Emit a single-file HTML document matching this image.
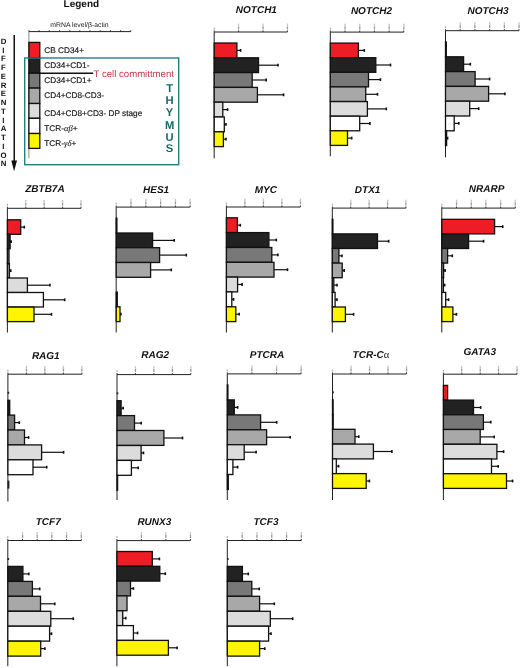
<!DOCTYPE html>
<html><head><meta charset="utf-8"><style>
html,body{margin:0;padding:0;background:#fff;}
body{width:520px;height:668px;overflow:hidden;}
svg{display:block;will-change:transform;filter:blur(0.3px);}
text{font-family:"Liberation Sans", sans-serif;text-rendering:geometricPrecision;}
.tt{font-size:10px;font-weight:bold;font-style:italic;fill:#111;}
.al{font-family:"Liberation Serif",serif;font-weight:normal;font-style:normal;font-size:10.5px;}
.lg{font-size:10px;font-weight:bold;fill:#111;}
.ml{font-size:6.85px;fill:#222;}
.gk{font-family:"Liberation Serif",serif;font-style:italic;font-size:8.6px;stroke-width:0.1;}
.lt{font-size:8.25px;fill:#1a1a1a;stroke:#1a1a1a;stroke-width:0.18;}
.rc{font-size:9.6px;fill:#c43a48;}
.th{font-size:11.2px;font-weight:bold;fill:#186868;text-anchor:middle;}
.df{font-size:7.8px;font-weight:bold;fill:#111;text-anchor:middle;}
.ax{stroke:#222;stroke-width:1;}
.lax{stroke:#888;stroke-width:1;}
.tk{stroke:#222;stroke-width:0.9;}
.tl{fill:#aaa;}
.bar{stroke:#111;stroke-width:1.3;}
.eb{stroke:#111;stroke-width:1.2;}
.ec{stroke:#111;stroke-width:1.6;}
.tc{stroke:#111;stroke-width:1.4;}
.fr{fill:none;stroke:#237f80;stroke-width:1.4;}
.ar{stroke:#111;stroke-width:1.5;}
</style></head><body>
<svg width="520" height="668" viewBox="0 0 520 668">
<text x="63.6" y="7.0" class="lg">Legend</text>
<text x="50.3" y="27.3" class="ml">mRNA level/β-actin</text>
<line x1="28.9" y1="31.6" x2="130.8" y2="31.6" class="ax"/>
<line x1="28.9" y1="30.2" x2="28.9" y2="31.6" class="tk"/>
<line x1="39.1" y1="30.2" x2="39.1" y2="31.6" class="tk"/>
<line x1="49.3" y1="30.2" x2="49.3" y2="31.6" class="tk"/>
<line x1="59.5" y1="30.2" x2="59.5" y2="31.6" class="tk"/>
<line x1="69.7" y1="30.2" x2="69.7" y2="31.6" class="tk"/>
<line x1="79.8" y1="30.2" x2="79.8" y2="31.6" class="tk"/>
<line x1="90.0" y1="30.2" x2="90.0" y2="31.6" class="tk"/>
<line x1="100.2" y1="30.2" x2="100.2" y2="31.6" class="tk"/>
<line x1="110.4" y1="30.2" x2="110.4" y2="31.6" class="tk"/>
<line x1="120.6" y1="30.2" x2="120.6" y2="31.6" class="tk"/>
<line x1="130.8" y1="30.2" x2="130.8" y2="31.6" class="tk"/>
<line x1="28.9" y1="31.6" x2="28.9" y2="158.3" class="lax"/>
<rect x="28.9" y="42.4" width="10.9" height="15.4" fill="#ee1c24" class="bar"/>
<rect x="28.9" y="57.8" width="10.9" height="15.4" fill="#222222" class="bar"/>
<rect x="28.9" y="73.2" width="10.9" height="14.9" fill="#787878" class="bar"/>
<rect x="28.9" y="88.1" width="10.9" height="15.4" fill="#a8a8a8" class="bar"/>
<rect x="28.9" y="103.5" width="10.9" height="14.8" fill="#dcdcdc" class="bar"/>
<rect x="28.9" y="118.3" width="10.9" height="15.2" fill="#ffffff" class="bar"/>
<rect x="28.9" y="133.5" width="10.9" height="14.9" fill="#fff500" class="bar"/>
<text x="44.3" y="53.0" class="lt">CB CD34+</text>
<text x="44.3" y="67.5" class="lt">CD34+CD1-</text>
<text x="44.3" y="82.8" class="lt">CD34+CD1+</text>
<text x="44.3" y="97.9" class="lt">CD4+CD8-CD3-</text>
<text x="44.3" y="115.8" class="lt">CD4+CD8+CD3- DP stage</text>
<text x="44.3" y="131.1" class="lt">TCR-<tspan class="gk">αβ</tspan>+</text>
<text x="44.3" y="145.6" class="lt">TCR-<tspan class="gk">γδ</tspan>+</text>
<line x1="39.8" y1="73.2" x2="93.2" y2="73.2" class="tc"/>
<text x="93.6" y="76.6" class="rc">T cell committment</text>
<rect x="24.7" y="58.0" width="154.0" height="106.7" class="fr"/>
<text x="169.6" y="91.7" class="th">T</text>
<text x="169.6" y="104.0" class="th">H</text>
<text x="169.6" y="116.2" class="th">Y</text>
<text x="169.6" y="128.6" class="th">M</text>
<text x="169.6" y="140.7" class="th">U</text>
<text x="169.6" y="152.3" class="th">S</text>
<text x="3.45" y="43.80" class="df">D</text>
<text x="3.45" y="52.56" class="df">I</text>
<text x="3.45" y="61.32" class="df">F</text>
<text x="3.45" y="70.08" class="df">F</text>
<text x="3.45" y="78.84" class="df">E</text>
<text x="3.45" y="87.60" class="df">R</text>
<text x="3.45" y="96.36" class="df">E</text>
<text x="3.45" y="105.12" class="df">N</text>
<text x="3.45" y="113.88" class="df">T</text>
<text x="3.45" y="122.64" class="df">I</text>
<text x="3.45" y="131.40" class="df">A</text>
<text x="3.45" y="140.16" class="df">T</text>
<text x="3.45" y="148.92" class="df">I</text>
<text x="3.45" y="157.68" class="df">O</text>
<text x="3.45" y="166.44" class="df">N</text>
<line x1="14.25" y1="35.0" x2="14.25" y2="162" class="ar"/>
<path d="M11.3,160.4 L17.0,160.4 L14.1,171.2 Z" fill="#111"/>
<text x="235.8" y="13.3" class="tt">NOTCH1</text>
<line x1="214.2" y1="32.0" x2="287.4" y2="32.0" class="ax"/>
<line x1="214.2" y1="30.4" x2="214.2" y2="32.0" class="tk"/>
<rect x="213.6" y="27.6" width="1.2" height="1.8" fill="#aaa"/>
<line x1="238.6" y1="30.4" x2="238.6" y2="32.0" class="tk"/>
<rect x="237.9" y="23.6" width="1.3" height="2.6" fill="#c4c4c4"/>
<rect x="237.9" y="26.4" width="1.3" height="3.0" fill="#999"/>
<line x1="263.0" y1="30.4" x2="263.0" y2="32.0" class="tk"/>
<rect x="262.4" y="23.6" width="1.3" height="2.6" fill="#c4c4c4"/>
<rect x="262.4" y="26.4" width="1.3" height="3.0" fill="#999"/>
<line x1="287.4" y1="30.4" x2="287.4" y2="32.0" class="tk"/>
<rect x="286.8" y="23.6" width="1.3" height="2.6" fill="#c4c4c4"/>
<rect x="286.8" y="26.4" width="1.3" height="3.0" fill="#999"/>
<line x1="214.2" y1="32.0" x2="214.2" y2="158.4" class="ax"/>
<rect x="214.2" y="43.0" width="22.7" height="14.8" fill="#ee1c24" class="bar"/>
<line x1="236.9" y1="50.4" x2="240.6" y2="50.4" class="eb"/>
<line x1="240.6" y1="49.0" x2="240.6" y2="51.8" class="ec"/>
<rect x="214.2" y="57.8" width="44.3" height="14.8" fill="#222222" class="bar"/>
<line x1="258.5" y1="65.2" x2="278.0" y2="65.2" class="eb"/>
<line x1="278.0" y1="63.8" x2="278.0" y2="66.6" class="ec"/>
<rect x="214.2" y="72.6" width="38.0" height="14.8" fill="#787878" class="bar"/>
<line x1="252.2" y1="80.0" x2="266.2" y2="80.0" class="eb"/>
<line x1="266.2" y1="78.6" x2="266.2" y2="81.4" class="ec"/>
<rect x="214.2" y="87.4" width="43.2" height="14.8" fill="#a8a8a8" class="bar"/>
<line x1="257.4" y1="94.8" x2="283.6" y2="94.8" class="eb"/>
<line x1="283.6" y1="93.4" x2="283.6" y2="96.2" class="ec"/>
<rect x="214.2" y="102.2" width="8.6" height="14.8" fill="#dcdcdc" class="bar"/>
<line x1="222.8" y1="109.6" x2="227.6" y2="109.6" class="eb"/>
<line x1="227.6" y1="108.2" x2="227.6" y2="111.0" class="ec"/>
<rect x="214.2" y="117.0" width="10.1" height="14.8" fill="#ffffff" class="bar"/>
<line x1="224.3" y1="124.4" x2="226.0" y2="124.4" class="eb"/>
<line x1="226.0" y1="123.0" x2="226.0" y2="125.8" class="ec"/>
<rect x="214.2" y="131.8" width="9.2" height="14.8" fill="#fff500" class="bar"/>
<line x1="223.4" y1="139.2" x2="226.0" y2="139.2" class="eb"/>
<line x1="226.0" y1="137.8" x2="226.0" y2="140.6" class="ec"/>
<text x="350.9" y="13.7" class="tt">NOTCH2</text>
<line x1="330.3" y1="32.1" x2="403.8" y2="32.1" class="ax"/>
<line x1="330.3" y1="30.5" x2="330.3" y2="32.1" class="tk"/>
<rect x="329.7" y="27.7" width="1.2" height="1.8" fill="#aaa"/>
<line x1="345.0" y1="30.5" x2="345.0" y2="32.1" class="tk"/>
<rect x="344.4" y="23.7" width="1.3" height="2.6" fill="#c4c4c4"/>
<rect x="344.4" y="26.5" width="1.3" height="3.0" fill="#999"/>
<line x1="359.7" y1="30.5" x2="359.7" y2="32.1" class="tk"/>
<rect x="359.1" y="23.7" width="1.3" height="2.6" fill="#c4c4c4"/>
<rect x="359.1" y="26.5" width="1.3" height="3.0" fill="#999"/>
<line x1="374.4" y1="30.5" x2="374.4" y2="32.1" class="tk"/>
<rect x="373.8" y="23.7" width="1.3" height="2.6" fill="#c4c4c4"/>
<rect x="373.8" y="26.5" width="1.3" height="3.0" fill="#999"/>
<line x1="389.1" y1="30.5" x2="389.1" y2="32.1" class="tk"/>
<rect x="388.5" y="23.7" width="1.3" height="2.6" fill="#c4c4c4"/>
<rect x="388.5" y="26.5" width="1.3" height="3.0" fill="#999"/>
<line x1="403.8" y1="30.5" x2="403.8" y2="32.1" class="tk"/>
<rect x="403.2" y="23.7" width="1.3" height="2.6" fill="#c4c4c4"/>
<rect x="403.2" y="26.5" width="1.3" height="3.0" fill="#999"/>
<line x1="330.3" y1="32.1" x2="330.3" y2="156.3" class="ax"/>
<rect x="330.3" y="43.1" width="28.1" height="14.6" fill="#ee1c24" class="bar"/>
<line x1="358.4" y1="50.4" x2="364.3" y2="50.4" class="eb"/>
<line x1="364.3" y1="49.0" x2="364.3" y2="51.8" class="ec"/>
<rect x="330.3" y="57.7" width="45.5" height="14.6" fill="#222222" class="bar"/>
<line x1="375.8" y1="65.0" x2="390.5" y2="65.0" class="eb"/>
<line x1="390.5" y1="63.6" x2="390.5" y2="66.4" class="ec"/>
<rect x="330.3" y="72.3" width="38.2" height="14.6" fill="#787878" class="bar"/>
<line x1="368.5" y1="79.6" x2="380.4" y2="79.6" class="eb"/>
<line x1="380.4" y1="78.2" x2="380.4" y2="81.0" class="ec"/>
<rect x="330.3" y="86.9" width="35.4" height="14.6" fill="#a8a8a8" class="bar"/>
<line x1="365.7" y1="94.3" x2="377.5" y2="94.3" class="eb"/>
<line x1="377.5" y1="92.9" x2="377.5" y2="95.7" class="ec"/>
<rect x="330.3" y="101.6" width="37.1" height="14.6" fill="#dcdcdc" class="bar"/>
<line x1="367.4" y1="108.9" x2="386.3" y2="108.9" class="eb"/>
<line x1="386.3" y1="107.5" x2="386.3" y2="110.3" class="ec"/>
<rect x="330.3" y="116.2" width="29.4" height="14.6" fill="#ffffff" class="bar"/>
<line x1="359.7" y1="123.5" x2="369.9" y2="123.5" class="eb"/>
<line x1="369.9" y1="122.1" x2="369.9" y2="124.9" class="ec"/>
<rect x="330.3" y="130.8" width="17.2" height="14.6" fill="#fff500" class="bar"/>
<line x1="347.5" y1="138.1" x2="351.7" y2="138.1" class="eb"/>
<line x1="351.7" y1="136.7" x2="351.7" y2="139.5" class="ec"/>
<text x="467.5" y="13.7" class="tt">NOTCH3</text>
<line x1="445.5" y1="30.7" x2="519.0" y2="30.7" class="ax"/>
<line x1="445.5" y1="29.1" x2="445.5" y2="30.7" class="tk"/>
<rect x="444.9" y="26.3" width="1.2" height="1.8" fill="#aaa"/>
<line x1="460.2" y1="29.1" x2="460.2" y2="30.7" class="tk"/>
<rect x="459.6" y="22.3" width="1.3" height="2.6" fill="#c4c4c4"/>
<rect x="459.6" y="25.1" width="1.3" height="3.0" fill="#999"/>
<line x1="474.9" y1="29.1" x2="474.9" y2="30.7" class="tk"/>
<rect x="474.2" y="22.3" width="1.3" height="2.6" fill="#c4c4c4"/>
<rect x="474.2" y="25.1" width="1.3" height="3.0" fill="#999"/>
<line x1="489.6" y1="29.1" x2="489.6" y2="30.7" class="tk"/>
<rect x="489.0" y="22.3" width="1.3" height="2.6" fill="#c4c4c4"/>
<rect x="489.0" y="25.1" width="1.3" height="3.0" fill="#999"/>
<line x1="504.3" y1="29.1" x2="504.3" y2="30.7" class="tk"/>
<rect x="503.7" y="22.3" width="1.3" height="2.6" fill="#c4c4c4"/>
<rect x="503.7" y="25.1" width="1.3" height="3.0" fill="#999"/>
<line x1="519.0" y1="29.1" x2="519.0" y2="30.7" class="tk"/>
<rect x="518.4" y="22.3" width="1.3" height="2.6" fill="#c4c4c4"/>
<rect x="518.4" y="25.1" width="1.3" height="3.0" fill="#999"/>
<line x1="445.5" y1="30.7" x2="445.5" y2="157.3" class="ax"/>
<rect x="445.5" y="42.0" width="0.8" height="14.8" fill="#ee1c24" class="bar"/>
<rect x="445.5" y="56.8" width="18.1" height="14.8" fill="#222222" class="bar"/>
<line x1="463.6" y1="64.2" x2="470.3" y2="64.2" class="eb"/>
<line x1="470.3" y1="62.8" x2="470.3" y2="65.6" class="ec"/>
<rect x="445.5" y="71.6" width="29.6" height="14.8" fill="#787878" class="bar"/>
<line x1="475.1" y1="79.0" x2="489.6" y2="79.0" class="eb"/>
<line x1="489.6" y1="77.6" x2="489.6" y2="80.4" class="ec"/>
<rect x="445.5" y="86.4" width="43.1" height="14.8" fill="#a8a8a8" class="bar"/>
<line x1="488.6" y1="93.8" x2="504.9" y2="93.8" class="eb"/>
<line x1="504.9" y1="92.4" x2="504.9" y2="95.2" class="ec"/>
<rect x="445.5" y="101.2" width="24.2" height="14.8" fill="#dcdcdc" class="bar"/>
<line x1="469.7" y1="108.6" x2="478.7" y2="108.6" class="eb"/>
<line x1="478.7" y1="107.2" x2="478.7" y2="110.0" class="ec"/>
<rect x="445.5" y="116.0" width="8.7" height="14.8" fill="#ffffff" class="bar"/>
<line x1="454.2" y1="123.4" x2="458.8" y2="123.4" class="eb"/>
<line x1="458.8" y1="122.0" x2="458.8" y2="124.8" class="ec"/>
<rect x="445.5" y="130.8" width="1.1" height="14.8" fill="#fff500" class="bar"/>
<line x1="446.6" y1="138.2" x2="447.6" y2="138.2" class="eb"/>
<line x1="447.6" y1="136.8" x2="447.6" y2="139.6" class="ec"/>
<text x="25.2" y="192.3" class="tt">ZBTB7A</text>
<line x1="7.4" y1="208.3" x2="81.0" y2="208.3" class="ax"/>
<line x1="7.4" y1="206.7" x2="7.4" y2="208.3" class="tk"/>
<rect x="6.8" y="203.9" width="1.2" height="1.8" fill="#aaa"/>
<line x1="25.8" y1="206.7" x2="25.8" y2="208.3" class="tk"/>
<rect x="25.1" y="199.9" width="1.3" height="2.6" fill="#c4c4c4"/>
<rect x="25.1" y="202.7" width="1.3" height="3.0" fill="#999"/>
<line x1="44.2" y1="206.7" x2="44.2" y2="208.3" class="tk"/>
<rect x="43.5" y="199.9" width="1.3" height="2.6" fill="#c4c4c4"/>
<rect x="43.5" y="202.7" width="1.3" height="3.0" fill="#999"/>
<line x1="62.6" y1="206.7" x2="62.6" y2="208.3" class="tk"/>
<rect x="61.9" y="199.9" width="1.3" height="2.6" fill="#c4c4c4"/>
<rect x="61.9" y="202.7" width="1.3" height="3.0" fill="#999"/>
<line x1="81.0" y1="206.7" x2="81.0" y2="208.3" class="tk"/>
<rect x="80.3" y="199.9" width="1.3" height="2.6" fill="#c4c4c4"/>
<rect x="80.3" y="202.7" width="1.3" height="3.0" fill="#999"/>
<line x1="7.4" y1="208.3" x2="7.4" y2="332.5" class="ax"/>
<rect x="7.4" y="219.8" width="13.3" height="14.5" fill="#ee1c24" class="bar"/>
<line x1="20.7" y1="227.1" x2="24.3" y2="227.1" class="eb"/>
<line x1="24.3" y1="225.7" x2="24.3" y2="228.5" class="ec"/>
<rect x="7.4" y="234.3" width="2.7" height="14.5" fill="#222222" class="bar"/>
<line x1="10.1" y1="241.6" x2="11.2" y2="241.6" class="eb"/>
<line x1="11.2" y1="240.2" x2="11.2" y2="243.0" class="ec"/>
<rect x="7.4" y="248.9" width="1.6" height="14.5" fill="#787878" class="bar"/>
<rect x="7.4" y="263.4" width="2.0" height="14.5" fill="#a8a8a8" class="bar"/>
<line x1="9.4" y1="270.7" x2="10.8" y2="270.7" class="eb"/>
<line x1="10.8" y1="269.3" x2="10.8" y2="272.1" class="ec"/>
<rect x="7.4" y="278.0" width="20.0" height="14.5" fill="#dcdcdc" class="bar"/>
<line x1="27.4" y1="285.2" x2="49.9" y2="285.2" class="eb"/>
<line x1="49.9" y1="283.8" x2="49.9" y2="286.6" class="ec"/>
<rect x="7.4" y="292.5" width="36.0" height="14.5" fill="#ffffff" class="bar"/>
<line x1="43.4" y1="299.8" x2="64.7" y2="299.8" class="eb"/>
<line x1="64.7" y1="298.4" x2="64.7" y2="301.2" class="ec"/>
<rect x="7.4" y="307.1" width="26.6" height="14.5" fill="#fff500" class="bar"/>
<line x1="34.0" y1="314.3" x2="51.5" y2="314.3" class="eb"/>
<line x1="51.5" y1="312.9" x2="51.5" y2="315.7" class="ec"/>
<text x="143.0" y="192.6" class="tt">HES1</text>
<line x1="116.2" y1="207.1" x2="190.2" y2="207.1" class="ax"/>
<line x1="116.2" y1="205.5" x2="116.2" y2="207.1" class="tk"/>
<rect x="115.6" y="202.7" width="1.2" height="1.8" fill="#aaa"/>
<line x1="131.0" y1="205.5" x2="131.0" y2="207.1" class="tk"/>
<rect x="130.3" y="198.7" width="1.3" height="2.6" fill="#c4c4c4"/>
<rect x="130.3" y="201.5" width="1.3" height="3.0" fill="#999"/>
<line x1="145.8" y1="205.5" x2="145.8" y2="207.1" class="tk"/>
<rect x="145.2" y="198.7" width="1.3" height="2.6" fill="#c4c4c4"/>
<rect x="145.2" y="201.5" width="1.3" height="3.0" fill="#999"/>
<line x1="160.6" y1="205.5" x2="160.6" y2="207.1" class="tk"/>
<rect x="160.0" y="198.7" width="1.3" height="2.6" fill="#c4c4c4"/>
<rect x="160.0" y="201.5" width="1.3" height="3.0" fill="#999"/>
<line x1="175.4" y1="205.5" x2="175.4" y2="207.1" class="tk"/>
<rect x="174.8" y="198.7" width="1.3" height="2.6" fill="#c4c4c4"/>
<rect x="174.8" y="201.5" width="1.3" height="3.0" fill="#999"/>
<line x1="190.2" y1="205.5" x2="190.2" y2="207.1" class="tk"/>
<rect x="189.5" y="198.7" width="1.3" height="2.6" fill="#c4c4c4"/>
<rect x="189.5" y="201.5" width="1.3" height="3.0" fill="#999"/>
<line x1="116.2" y1="207.1" x2="116.2" y2="332.5" class="ax"/>
<rect x="116.2" y="218.2" width="0.7" height="14.8" fill="#ee1c24" class="bar"/>
<rect x="116.2" y="233.0" width="36.4" height="14.8" fill="#222222" class="bar"/>
<line x1="152.6" y1="240.4" x2="174.2" y2="240.4" class="eb"/>
<line x1="174.2" y1="239.0" x2="174.2" y2="241.8" class="ec"/>
<rect x="116.2" y="247.7" width="43.4" height="14.8" fill="#787878" class="bar"/>
<line x1="159.6" y1="255.1" x2="186.3" y2="255.1" class="eb"/>
<line x1="186.3" y1="253.7" x2="186.3" y2="256.5" class="ec"/>
<rect x="116.2" y="262.5" width="34.4" height="14.8" fill="#a8a8a8" class="bar"/>
<line x1="150.6" y1="269.9" x2="171.3" y2="269.9" class="eb"/>
<line x1="171.3" y1="268.5" x2="171.3" y2="271.3" class="ec"/>
<rect x="116.2" y="292.1" width="1.1" height="14.8" fill="#ffffff" class="bar"/>
<rect x="116.2" y="306.8" width="3.8" height="14.8" fill="#fff500" class="bar"/>
<line x1="120.0" y1="314.2" x2="120.9" y2="314.2" class="eb"/>
<line x1="120.9" y1="312.8" x2="120.9" y2="315.6" class="ec"/>
<text x="254.7" y="192.6" class="tt">MYC</text>
<line x1="226.4" y1="207.0" x2="300.4" y2="207.0" class="ax"/>
<line x1="226.4" y1="205.4" x2="226.4" y2="207.0" class="tk"/>
<rect x="225.8" y="202.6" width="1.2" height="1.8" fill="#aaa"/>
<line x1="244.9" y1="205.4" x2="244.9" y2="207.0" class="tk"/>
<rect x="244.2" y="198.6" width="1.3" height="2.6" fill="#c4c4c4"/>
<rect x="244.2" y="201.4" width="1.3" height="3.0" fill="#999"/>
<line x1="263.4" y1="205.4" x2="263.4" y2="207.0" class="tk"/>
<rect x="262.8" y="198.6" width="1.3" height="2.6" fill="#c4c4c4"/>
<rect x="262.8" y="201.4" width="1.3" height="3.0" fill="#999"/>
<line x1="281.9" y1="205.4" x2="281.9" y2="207.0" class="tk"/>
<rect x="281.2" y="198.6" width="1.3" height="2.6" fill="#c4c4c4"/>
<rect x="281.2" y="201.4" width="1.3" height="3.0" fill="#999"/>
<line x1="300.4" y1="205.4" x2="300.4" y2="207.0" class="tk"/>
<rect x="299.8" y="198.6" width="1.3" height="2.6" fill="#c4c4c4"/>
<rect x="299.8" y="201.4" width="1.3" height="3.0" fill="#999"/>
<line x1="226.4" y1="207.0" x2="226.4" y2="332.5" class="ax"/>
<rect x="226.4" y="217.8" width="11.0" height="14.8" fill="#ee1c24" class="bar"/>
<line x1="237.4" y1="225.2" x2="240.3" y2="225.2" class="eb"/>
<line x1="240.3" y1="223.8" x2="240.3" y2="226.6" class="ec"/>
<rect x="226.4" y="232.6" width="42.5" height="14.8" fill="#222222" class="bar"/>
<line x1="268.9" y1="240.0" x2="276.3" y2="240.0" class="eb"/>
<line x1="276.3" y1="238.6" x2="276.3" y2="241.4" class="ec"/>
<rect x="226.4" y="247.5" width="45.4" height="14.8" fill="#787878" class="bar"/>
<line x1="271.8" y1="254.9" x2="277.9" y2="254.9" class="eb"/>
<line x1="277.9" y1="253.5" x2="277.9" y2="256.3" class="ec"/>
<rect x="226.4" y="262.3" width="47.6" height="14.8" fill="#a8a8a8" class="bar"/>
<line x1="274.0" y1="269.7" x2="287.5" y2="269.7" class="eb"/>
<line x1="287.5" y1="268.3" x2="287.5" y2="271.1" class="ec"/>
<rect x="226.4" y="277.1" width="11.2" height="14.8" fill="#dcdcdc" class="bar"/>
<line x1="237.6" y1="284.5" x2="242.1" y2="284.5" class="eb"/>
<line x1="242.1" y1="283.1" x2="242.1" y2="285.9" class="ec"/>
<rect x="226.4" y="291.9" width="5.4" height="14.8" fill="#ffffff" class="bar"/>
<line x1="231.8" y1="299.4" x2="233.6" y2="299.4" class="eb"/>
<line x1="233.6" y1="298.0" x2="233.6" y2="300.8" class="ec"/>
<rect x="226.4" y="306.8" width="9.4" height="14.8" fill="#fff500" class="bar"/>
<line x1="235.8" y1="314.2" x2="239.2" y2="314.2" class="eb"/>
<line x1="239.2" y1="312.8" x2="239.2" y2="315.6" class="ec"/>
<text x="354.8" y="193.1" class="tt">DTX1</text>
<line x1="332.3" y1="208.1" x2="405.9" y2="208.1" class="ax"/>
<line x1="332.3" y1="206.5" x2="332.3" y2="208.1" class="tk"/>
<rect x="331.7" y="203.7" width="1.2" height="1.8" fill="#aaa"/>
<line x1="350.7" y1="206.5" x2="350.7" y2="208.1" class="tk"/>
<rect x="350.1" y="199.7" width="1.3" height="2.6" fill="#c4c4c4"/>
<rect x="350.1" y="202.5" width="1.3" height="3.0" fill="#999"/>
<line x1="369.1" y1="206.5" x2="369.1" y2="208.1" class="tk"/>
<rect x="368.5" y="199.7" width="1.3" height="2.6" fill="#c4c4c4"/>
<rect x="368.5" y="202.5" width="1.3" height="3.0" fill="#999"/>
<line x1="387.5" y1="206.5" x2="387.5" y2="208.1" class="tk"/>
<rect x="386.9" y="199.7" width="1.3" height="2.6" fill="#c4c4c4"/>
<rect x="386.9" y="202.5" width="1.3" height="3.0" fill="#999"/>
<line x1="405.9" y1="206.5" x2="405.9" y2="208.1" class="tk"/>
<rect x="405.2" y="199.7" width="1.3" height="2.6" fill="#c4c4c4"/>
<rect x="405.2" y="202.5" width="1.3" height="3.0" fill="#999"/>
<line x1="332.3" y1="208.1" x2="332.3" y2="332.5" class="ax"/>
<rect x="332.3" y="219.3" width="0.6" height="14.6" fill="#ee1c24" class="bar"/>
<rect x="332.3" y="233.9" width="45.2" height="14.6" fill="#222222" class="bar"/>
<line x1="377.5" y1="241.2" x2="388.7" y2="241.2" class="eb"/>
<line x1="388.7" y1="239.8" x2="388.7" y2="242.6" class="ec"/>
<rect x="332.3" y="248.5" width="6.6" height="14.6" fill="#787878" class="bar"/>
<line x1="338.9" y1="255.8" x2="342.0" y2="255.8" class="eb"/>
<line x1="342.0" y1="254.4" x2="342.0" y2="257.2" class="ec"/>
<rect x="332.3" y="263.1" width="9.9" height="14.6" fill="#a8a8a8" class="bar"/>
<line x1="342.2" y1="270.5" x2="344.2" y2="270.5" class="eb"/>
<line x1="344.2" y1="269.1" x2="344.2" y2="271.9" class="ec"/>
<rect x="332.3" y="277.8" width="1.5" height="14.6" fill="#dcdcdc" class="bar"/>
<line x1="333.8" y1="285.1" x2="337.0" y2="285.1" class="eb"/>
<line x1="337.0" y1="283.7" x2="337.0" y2="286.5" class="ec"/>
<rect x="332.3" y="292.4" width="2.8" height="14.6" fill="#ffffff" class="bar"/>
<line x1="335.1" y1="299.7" x2="337.0" y2="299.7" class="eb"/>
<line x1="337.0" y1="298.3" x2="337.0" y2="301.1" class="ec"/>
<rect x="332.3" y="307.0" width="13.1" height="14.6" fill="#fff500" class="bar"/>
<line x1="345.4" y1="314.3" x2="353.6" y2="314.3" class="eb"/>
<line x1="353.6" y1="312.9" x2="353.6" y2="315.7" class="ec"/>
<text x="468.8" y="192.4" class="tt">NRARP</text>
<line x1="441.8" y1="208.1" x2="515.3" y2="208.1" class="ax"/>
<line x1="441.8" y1="206.5" x2="441.8" y2="208.1" class="tk"/>
<rect x="441.2" y="203.7" width="1.2" height="1.8" fill="#aaa"/>
<line x1="456.5" y1="206.5" x2="456.5" y2="208.1" class="tk"/>
<rect x="455.9" y="199.7" width="1.3" height="2.6" fill="#c4c4c4"/>
<rect x="455.9" y="202.5" width="1.3" height="3.0" fill="#999"/>
<line x1="471.2" y1="206.5" x2="471.2" y2="208.1" class="tk"/>
<rect x="470.6" y="199.7" width="1.3" height="2.6" fill="#c4c4c4"/>
<rect x="470.6" y="202.5" width="1.3" height="3.0" fill="#999"/>
<line x1="485.9" y1="206.5" x2="485.9" y2="208.1" class="tk"/>
<rect x="485.2" y="199.7" width="1.3" height="2.6" fill="#c4c4c4"/>
<rect x="485.2" y="202.5" width="1.3" height="3.0" fill="#999"/>
<line x1="500.6" y1="206.5" x2="500.6" y2="208.1" class="tk"/>
<rect x="500.0" y="199.7" width="1.3" height="2.6" fill="#c4c4c4"/>
<rect x="500.0" y="202.5" width="1.3" height="3.0" fill="#999"/>
<line x1="515.3" y1="206.5" x2="515.3" y2="208.1" class="tk"/>
<rect x="514.6" y="199.7" width="1.3" height="2.6" fill="#c4c4c4"/>
<rect x="514.6" y="202.5" width="1.3" height="3.0" fill="#999"/>
<line x1="441.8" y1="208.1" x2="441.8" y2="332.5" class="ax"/>
<rect x="441.8" y="219.3" width="52.8" height="14.6" fill="#ee1c24" class="bar"/>
<line x1="494.6" y1="226.6" x2="502.7" y2="226.6" class="eb"/>
<line x1="502.7" y1="225.2" x2="502.7" y2="228.0" class="ec"/>
<rect x="441.8" y="233.9" width="26.8" height="14.6" fill="#222222" class="bar"/>
<line x1="468.6" y1="241.2" x2="483.6" y2="241.2" class="eb"/>
<line x1="483.6" y1="239.8" x2="483.6" y2="242.6" class="ec"/>
<rect x="441.8" y="248.5" width="5.8" height="14.6" fill="#787878" class="bar"/>
<line x1="447.6" y1="255.8" x2="452.3" y2="255.8" class="eb"/>
<line x1="452.3" y1="254.4" x2="452.3" y2="257.2" class="ec"/>
<rect x="441.8" y="263.1" width="1.8" height="14.6" fill="#a8a8a8" class="bar"/>
<line x1="443.6" y1="270.5" x2="445.1" y2="270.5" class="eb"/>
<line x1="445.1" y1="269.1" x2="445.1" y2="271.9" class="ec"/>
<rect x="441.8" y="277.8" width="1.6" height="14.6" fill="#dcdcdc" class="bar"/>
<line x1="443.4" y1="285.1" x2="444.7" y2="285.1" class="eb"/>
<line x1="444.7" y1="283.7" x2="444.7" y2="286.5" class="ec"/>
<rect x="441.8" y="292.4" width="3.9" height="14.6" fill="#ffffff" class="bar"/>
<line x1="445.7" y1="299.7" x2="448.6" y2="299.7" class="eb"/>
<line x1="448.6" y1="298.3" x2="448.6" y2="301.1" class="ec"/>
<rect x="441.8" y="307.0" width="11.1" height="14.6" fill="#fff500" class="bar"/>
<line x1="452.9" y1="314.3" x2="456.4" y2="314.3" class="eb"/>
<line x1="456.4" y1="312.9" x2="456.4" y2="315.7" class="ec"/>
<text x="31.9" y="358.5" class="tt">RAG1</text>
<line x1="7.9" y1="374.2" x2="81.9" y2="374.2" class="ax"/>
<line x1="7.9" y1="372.6" x2="7.9" y2="374.2" class="tk"/>
<rect x="7.3" y="369.8" width="1.2" height="1.8" fill="#aaa"/>
<line x1="26.4" y1="372.6" x2="26.4" y2="374.2" class="tk"/>
<rect x="25.8" y="365.8" width="1.3" height="2.6" fill="#c4c4c4"/>
<rect x="25.8" y="368.6" width="1.3" height="3.0" fill="#999"/>
<line x1="44.9" y1="372.6" x2="44.9" y2="374.2" class="tk"/>
<rect x="44.2" y="365.8" width="1.3" height="2.6" fill="#c4c4c4"/>
<rect x="44.2" y="368.6" width="1.3" height="3.0" fill="#999"/>
<line x1="63.4" y1="372.6" x2="63.4" y2="374.2" class="tk"/>
<rect x="62.8" y="365.8" width="1.3" height="2.6" fill="#c4c4c4"/>
<rect x="62.8" y="368.6" width="1.3" height="3.0" fill="#999"/>
<line x1="81.9" y1="372.6" x2="81.9" y2="374.2" class="tk"/>
<rect x="81.2" y="365.8" width="1.3" height="2.6" fill="#c4c4c4"/>
<rect x="81.2" y="368.6" width="1.3" height="3.0" fill="#999"/>
<line x1="7.9" y1="374.2" x2="7.9" y2="501.5" class="ax"/>
<rect x="7.6" y="391.8" width="1.6" height="2.0" fill="#222"/>
<rect x="7.9" y="400.3" width="1.8" height="14.9" fill="#222222" class="bar"/>
<rect x="7.9" y="415.1" width="6.7" height="14.9" fill="#787878" class="bar"/>
<line x1="14.6" y1="422.6" x2="19.3" y2="422.6" class="eb"/>
<line x1="19.3" y1="421.2" x2="19.3" y2="424.0" class="ec"/>
<rect x="7.9" y="430.0" width="16.6" height="14.9" fill="#a8a8a8" class="bar"/>
<line x1="24.5" y1="437.5" x2="28.6" y2="437.5" class="eb"/>
<line x1="28.6" y1="436.1" x2="28.6" y2="438.9" class="ec"/>
<rect x="7.9" y="444.9" width="33.7" height="14.9" fill="#dcdcdc" class="bar"/>
<line x1="41.6" y1="452.3" x2="63.6" y2="452.3" class="eb"/>
<line x1="63.6" y1="450.9" x2="63.6" y2="453.7" class="ec"/>
<rect x="7.9" y="459.8" width="25.1" height="14.9" fill="#ffffff" class="bar"/>
<line x1="33.0" y1="467.2" x2="46.7" y2="467.2" class="eb"/>
<line x1="46.7" y1="465.8" x2="46.7" y2="468.6" class="ec"/>
<rect x="7.5" y="480.6" width="1.9" height="8.0" fill="#222"/>
<text x="141.2" y="358.2" class="tt">RAG2</text>
<line x1="117.0" y1="374.6" x2="190.8" y2="374.6" class="ax"/>
<line x1="117.0" y1="373.0" x2="117.0" y2="374.6" class="tk"/>
<rect x="116.4" y="370.2" width="1.2" height="1.8" fill="#aaa"/>
<line x1="135.4" y1="373.0" x2="135.4" y2="374.6" class="tk"/>
<rect x="134.8" y="366.2" width="1.3" height="2.6" fill="#c4c4c4"/>
<rect x="134.8" y="369.0" width="1.3" height="3.0" fill="#999"/>
<line x1="153.9" y1="373.0" x2="153.9" y2="374.6" class="tk"/>
<rect x="153.2" y="366.2" width="1.3" height="2.6" fill="#c4c4c4"/>
<rect x="153.2" y="369.0" width="1.3" height="3.0" fill="#999"/>
<line x1="172.3" y1="373.0" x2="172.3" y2="374.6" class="tk"/>
<rect x="171.7" y="366.2" width="1.3" height="2.6" fill="#c4c4c4"/>
<rect x="171.7" y="369.0" width="1.3" height="3.0" fill="#999"/>
<line x1="190.8" y1="373.0" x2="190.8" y2="374.6" class="tk"/>
<rect x="190.2" y="366.2" width="1.3" height="2.6" fill="#c4c4c4"/>
<rect x="190.2" y="369.0" width="1.3" height="3.0" fill="#999"/>
<line x1="117.0" y1="374.6" x2="117.0" y2="500.0" class="ax"/>
<rect x="116.7" y="392.3" width="1.6" height="2.0" fill="#222"/>
<rect x="117.0" y="400.7" width="4.1" height="14.9" fill="#222222" class="bar"/>
<line x1="121.1" y1="408.2" x2="123.2" y2="408.2" class="eb"/>
<line x1="123.2" y1="406.8" x2="123.2" y2="409.6" class="ec"/>
<rect x="117.0" y="415.6" width="17.5" height="14.9" fill="#787878" class="bar"/>
<line x1="134.5" y1="423.1" x2="141.2" y2="423.1" class="eb"/>
<line x1="141.2" y1="421.7" x2="141.2" y2="424.5" class="ec"/>
<rect x="117.0" y="430.5" width="46.9" height="14.9" fill="#a8a8a8" class="bar"/>
<line x1="163.9" y1="438.0" x2="182.5" y2="438.0" class="eb"/>
<line x1="182.5" y1="436.6" x2="182.5" y2="439.4" class="ec"/>
<rect x="117.0" y="445.5" width="24.1" height="14.9" fill="#dcdcdc" class="bar"/>
<line x1="141.1" y1="452.9" x2="143.5" y2="452.9" class="eb"/>
<line x1="143.5" y1="451.5" x2="143.5" y2="454.3" class="ec"/>
<rect x="117.0" y="460.4" width="14.4" height="14.9" fill="#ffffff" class="bar"/>
<line x1="131.4" y1="467.8" x2="138.2" y2="467.8" class="eb"/>
<line x1="138.2" y1="466.4" x2="138.2" y2="469.2" class="ec"/>
<rect x="117.0" y="475.3" width="0.6" height="14.9" fill="#fff500" class="bar"/>
<text x="249.8" y="358.2" class="tt">PTCRA</text>
<line x1="227.3" y1="373.9" x2="301.1" y2="373.9" class="ax"/>
<line x1="227.3" y1="372.3" x2="227.3" y2="373.9" class="tk"/>
<rect x="226.7" y="369.5" width="1.2" height="1.8" fill="#aaa"/>
<line x1="251.9" y1="372.3" x2="251.9" y2="373.9" class="tk"/>
<rect x="251.2" y="365.5" width="1.3" height="2.6" fill="#c4c4c4"/>
<rect x="251.2" y="368.3" width="1.3" height="3.0" fill="#999"/>
<line x1="276.5" y1="372.3" x2="276.5" y2="373.9" class="tk"/>
<rect x="275.9" y="365.5" width="1.3" height="2.6" fill="#c4c4c4"/>
<rect x="275.9" y="368.3" width="1.3" height="3.0" fill="#999"/>
<line x1="301.1" y1="372.3" x2="301.1" y2="373.9" class="tk"/>
<rect x="300.5" y="365.5" width="1.3" height="2.6" fill="#c4c4c4"/>
<rect x="300.5" y="368.3" width="1.3" height="3.0" fill="#999"/>
<line x1="227.3" y1="373.9" x2="227.3" y2="500.0" class="ax"/>
<rect x="227.3" y="385.0" width="0.6" height="14.9" fill="#ee1c24" class="bar"/>
<rect x="227.3" y="399.9" width="7.0" height="14.9" fill="#222222" class="bar"/>
<line x1="234.3" y1="407.4" x2="237.6" y2="407.4" class="eb"/>
<line x1="237.6" y1="406.0" x2="237.6" y2="408.8" class="ec"/>
<rect x="227.3" y="414.9" width="33.3" height="14.9" fill="#787878" class="bar"/>
<line x1="260.6" y1="422.3" x2="276.7" y2="422.3" class="eb"/>
<line x1="276.7" y1="420.9" x2="276.7" y2="423.7" class="ec"/>
<rect x="227.3" y="429.8" width="39.3" height="14.9" fill="#a8a8a8" class="bar"/>
<line x1="266.6" y1="437.2" x2="290.2" y2="437.2" class="eb"/>
<line x1="290.2" y1="435.9" x2="290.2" y2="438.6" class="ec"/>
<rect x="227.3" y="444.7" width="16.9" height="14.9" fill="#dcdcdc" class="bar"/>
<line x1="244.2" y1="452.2" x2="256.1" y2="452.2" class="eb"/>
<line x1="256.1" y1="450.8" x2="256.1" y2="453.6" class="ec"/>
<rect x="227.3" y="459.6" width="5.6" height="14.9" fill="#ffffff" class="bar"/>
<line x1="232.9" y1="467.1" x2="237.6" y2="467.1" class="eb"/>
<line x1="237.6" y1="465.7" x2="237.6" y2="468.5" class="ec"/>
<rect x="227.3" y="474.6" width="1.0" height="14.9" fill="#fff500" class="bar"/>
<text x="352.6" y="358.2" class="tt">TCR-C<tspan class="al">α</tspan></text>
<line x1="332.5" y1="374.0" x2="406.5" y2="374.0" class="ax"/>
<line x1="332.5" y1="372.4" x2="332.5" y2="374.0" class="tk"/>
<rect x="331.9" y="369.6" width="1.2" height="1.8" fill="#aaa"/>
<line x1="351.0" y1="372.4" x2="351.0" y2="374.0" class="tk"/>
<rect x="350.4" y="365.6" width="1.3" height="2.6" fill="#c4c4c4"/>
<rect x="350.4" y="368.4" width="1.3" height="3.0" fill="#999"/>
<line x1="369.5" y1="372.4" x2="369.5" y2="374.0" class="tk"/>
<rect x="368.9" y="365.6" width="1.3" height="2.6" fill="#c4c4c4"/>
<rect x="368.9" y="368.4" width="1.3" height="3.0" fill="#999"/>
<line x1="388.0" y1="372.4" x2="388.0" y2="374.0" class="tk"/>
<rect x="387.4" y="365.6" width="1.3" height="2.6" fill="#c4c4c4"/>
<rect x="387.4" y="368.4" width="1.3" height="3.0" fill="#999"/>
<line x1="406.5" y1="372.4" x2="406.5" y2="374.0" class="tk"/>
<rect x="405.9" y="365.6" width="1.3" height="2.6" fill="#c4c4c4"/>
<rect x="405.9" y="368.4" width="1.3" height="3.0" fill="#999"/>
<line x1="332.5" y1="374.0" x2="332.5" y2="500.0" class="ax"/>
<rect x="332.2" y="391.4" width="1.6" height="2.0" fill="#222"/>
<rect x="332.5" y="399.8" width="0.6" height="14.8" fill="#222222" class="bar"/>
<rect x="332.5" y="414.5" width="0.7" height="14.8" fill="#787878" class="bar"/>
<rect x="332.5" y="429.3" width="22.5" height="14.8" fill="#a8a8a8" class="bar"/>
<line x1="355.0" y1="436.7" x2="358.8" y2="436.7" class="eb"/>
<line x1="358.8" y1="435.3" x2="358.8" y2="438.1" class="ec"/>
<rect x="332.5" y="444.1" width="40.9" height="14.8" fill="#dcdcdc" class="bar"/>
<line x1="373.4" y1="451.5" x2="391.9" y2="451.5" class="eb"/>
<line x1="391.9" y1="450.1" x2="391.9" y2="452.9" class="ec"/>
<rect x="332.5" y="458.9" width="3.8" height="14.8" fill="#ffffff" class="bar"/>
<line x1="336.3" y1="466.2" x2="338.6" y2="466.2" class="eb"/>
<line x1="338.6" y1="464.8" x2="338.6" y2="467.6" class="ec"/>
<rect x="332.5" y="473.6" width="33.7" height="14.8" fill="#fff500" class="bar"/>
<line x1="366.2" y1="481.0" x2="369.4" y2="481.0" class="eb"/>
<line x1="369.4" y1="479.6" x2="369.4" y2="482.4" class="ec"/>
<text x="463.6" y="355.2" class="tt">GATA3</text>
<line x1="443.4" y1="374.2" x2="517.0" y2="374.2" class="ax"/>
<line x1="443.4" y1="372.6" x2="443.4" y2="374.2" class="tk"/>
<rect x="442.8" y="369.8" width="1.2" height="1.8" fill="#aaa"/>
<line x1="461.8" y1="372.6" x2="461.8" y2="374.2" class="tk"/>
<rect x="461.1" y="365.8" width="1.3" height="2.6" fill="#c4c4c4"/>
<rect x="461.1" y="368.6" width="1.3" height="3.0" fill="#999"/>
<line x1="480.2" y1="372.6" x2="480.2" y2="374.2" class="tk"/>
<rect x="479.6" y="365.8" width="1.3" height="2.6" fill="#c4c4c4"/>
<rect x="479.6" y="368.6" width="1.3" height="3.0" fill="#999"/>
<line x1="498.6" y1="372.6" x2="498.6" y2="374.2" class="tk"/>
<rect x="497.9" y="365.8" width="1.3" height="2.6" fill="#c4c4c4"/>
<rect x="497.9" y="368.6" width="1.3" height="3.0" fill="#999"/>
<line x1="517.0" y1="372.6" x2="517.0" y2="374.2" class="tk"/>
<rect x="516.4" y="365.8" width="1.3" height="2.6" fill="#c4c4c4"/>
<rect x="516.4" y="368.6" width="1.3" height="3.0" fill="#999"/>
<line x1="443.4" y1="374.2" x2="443.4" y2="500.0" class="ax"/>
<rect x="443.4" y="385.4" width="4.2" height="14.7" fill="#ee1c24" class="bar"/>
<rect x="443.4" y="400.1" width="30.1" height="14.7" fill="#222222" class="bar"/>
<line x1="473.5" y1="407.5" x2="480.7" y2="407.5" class="eb"/>
<line x1="480.7" y1="406.1" x2="480.7" y2="408.9" class="ec"/>
<rect x="443.4" y="414.8" width="40.0" height="14.7" fill="#787878" class="bar"/>
<line x1="483.4" y1="422.2" x2="490.8" y2="422.2" class="eb"/>
<line x1="490.8" y1="420.8" x2="490.8" y2="423.6" class="ec"/>
<rect x="443.4" y="429.5" width="36.8" height="14.7" fill="#a8a8a8" class="bar"/>
<line x1="480.2" y1="436.9" x2="494.2" y2="436.9" class="eb"/>
<line x1="494.2" y1="435.5" x2="494.2" y2="438.3" class="ec"/>
<rect x="443.4" y="444.3" width="53.5" height="14.7" fill="#dcdcdc" class="bar"/>
<line x1="496.9" y1="451.6" x2="503.6" y2="451.6" class="eb"/>
<line x1="503.6" y1="450.2" x2="503.6" y2="453.0" class="ec"/>
<rect x="443.4" y="459.0" width="48.1" height="14.7" fill="#ffffff" class="bar"/>
<line x1="491.5" y1="466.3" x2="498.2" y2="466.3" class="eb"/>
<line x1="498.2" y1="464.9" x2="498.2" y2="467.7" class="ec"/>
<rect x="443.4" y="473.7" width="63.1" height="14.7" fill="#fff500" class="bar"/>
<line x1="506.5" y1="481.0" x2="512.6" y2="481.0" class="eb"/>
<line x1="512.6" y1="479.6" x2="512.6" y2="482.4" class="ec"/>
<text x="35.7" y="525.1" class="tt">TCF7</text>
<line x1="7.8" y1="540.5" x2="81.3" y2="540.5" class="ax"/>
<line x1="7.8" y1="538.9" x2="7.8" y2="540.5" class="tk"/>
<rect x="7.2" y="536.1" width="1.2" height="1.8" fill="#aaa"/>
<line x1="22.5" y1="538.9" x2="22.5" y2="540.5" class="tk"/>
<rect x="21.9" y="532.1" width="1.3" height="2.6" fill="#c4c4c4"/>
<rect x="21.9" y="534.9" width="1.3" height="3.0" fill="#999"/>
<line x1="37.2" y1="538.9" x2="37.2" y2="540.5" class="tk"/>
<rect x="36.5" y="532.1" width="1.3" height="2.6" fill="#c4c4c4"/>
<rect x="36.5" y="534.9" width="1.3" height="3.0" fill="#999"/>
<line x1="51.9" y1="538.9" x2="51.9" y2="540.5" class="tk"/>
<rect x="51.2" y="532.1" width="1.3" height="2.6" fill="#c4c4c4"/>
<rect x="51.2" y="534.9" width="1.3" height="3.0" fill="#999"/>
<line x1="66.6" y1="538.9" x2="66.6" y2="540.5" class="tk"/>
<rect x="65.9" y="532.1" width="1.3" height="2.6" fill="#c4c4c4"/>
<rect x="65.9" y="534.9" width="1.3" height="3.0" fill="#999"/>
<line x1="81.3" y1="538.9" x2="81.3" y2="540.5" class="tk"/>
<rect x="80.6" y="532.1" width="1.3" height="2.6" fill="#c4c4c4"/>
<rect x="80.6" y="534.9" width="1.3" height="3.0" fill="#999"/>
<line x1="7.8" y1="540.5" x2="7.8" y2="666.2" class="ax"/>
<rect x="7.5" y="558.0" width="1.6" height="2.0" fill="#222"/>
<rect x="7.8" y="566.4" width="15.1" height="14.9" fill="#222222" class="bar"/>
<line x1="22.9" y1="573.9" x2="28.8" y2="573.9" class="eb"/>
<line x1="28.8" y1="572.5" x2="28.8" y2="575.3" class="ec"/>
<rect x="7.8" y="581.4" width="24.6" height="14.9" fill="#787878" class="bar"/>
<line x1="32.4" y1="588.9" x2="39.7" y2="588.9" class="eb"/>
<line x1="39.7" y1="587.5" x2="39.7" y2="590.3" class="ec"/>
<rect x="7.8" y="596.3" width="32.7" height="14.9" fill="#a8a8a8" class="bar"/>
<line x1="40.5" y1="603.8" x2="54.8" y2="603.8" class="eb"/>
<line x1="54.8" y1="602.4" x2="54.8" y2="605.2" class="ec"/>
<rect x="7.8" y="611.3" width="43.0" height="14.9" fill="#dcdcdc" class="bar"/>
<line x1="50.8" y1="618.7" x2="73.3" y2="618.7" class="eb"/>
<line x1="73.3" y1="617.3" x2="73.3" y2="620.1" class="ec"/>
<rect x="7.8" y="626.2" width="41.8" height="14.9" fill="#ffffff" class="bar"/>
<line x1="49.6" y1="633.7" x2="51.5" y2="633.7" class="eb"/>
<line x1="51.5" y1="632.3" x2="51.5" y2="635.1" class="ec"/>
<rect x="7.8" y="641.2" width="32.9" height="14.9" fill="#fff500" class="bar"/>
<line x1="40.7" y1="648.6" x2="44.9" y2="648.6" class="eb"/>
<line x1="44.9" y1="647.2" x2="44.9" y2="650.0" class="ec"/>
<text x="137.4" y="525.1" class="tt">RUNX3</text>
<line x1="116.9" y1="540.6" x2="190.4" y2="540.6" class="ax"/>
<line x1="116.9" y1="539.0" x2="116.9" y2="540.6" class="tk"/>
<rect x="116.3" y="536.2" width="1.2" height="1.8" fill="#aaa"/>
<line x1="141.4" y1="539.0" x2="141.4" y2="540.6" class="tk"/>
<rect x="140.8" y="532.2" width="1.3" height="2.6" fill="#c4c4c4"/>
<rect x="140.8" y="535.0" width="1.3" height="3.0" fill="#999"/>
<line x1="165.9" y1="539.0" x2="165.9" y2="540.6" class="tk"/>
<rect x="165.2" y="532.2" width="1.3" height="2.6" fill="#c4c4c4"/>
<rect x="165.2" y="535.0" width="1.3" height="3.0" fill="#999"/>
<line x1="190.4" y1="539.0" x2="190.4" y2="540.6" class="tk"/>
<rect x="189.8" y="532.2" width="1.3" height="2.6" fill="#c4c4c4"/>
<rect x="189.8" y="535.0" width="1.3" height="3.0" fill="#999"/>
<line x1="116.9" y1="540.6" x2="116.9" y2="666.2" class="ax"/>
<rect x="116.9" y="551.5" width="35.4" height="14.8" fill="#ee1c24" class="bar"/>
<line x1="152.3" y1="558.9" x2="159.4" y2="558.9" class="eb"/>
<line x1="159.4" y1="557.5" x2="159.4" y2="560.3" class="ec"/>
<rect x="116.9" y="566.3" width="42.9" height="14.8" fill="#222222" class="bar"/>
<line x1="159.8" y1="573.7" x2="165.3" y2="573.7" class="eb"/>
<line x1="165.3" y1="572.3" x2="165.3" y2="575.1" class="ec"/>
<rect x="116.9" y="581.1" width="13.6" height="14.8" fill="#787878" class="bar"/>
<line x1="130.5" y1="588.5" x2="133.4" y2="588.5" class="eb"/>
<line x1="133.4" y1="587.1" x2="133.4" y2="589.9" class="ec"/>
<rect x="116.9" y="595.9" width="10.1" height="14.8" fill="#a8a8a8" class="bar"/>
<rect x="116.9" y="610.8" width="5.8" height="14.8" fill="#dcdcdc" class="bar"/>
<line x1="122.7" y1="618.2" x2="125.8" y2="618.2" class="eb"/>
<line x1="125.8" y1="616.8" x2="125.8" y2="619.6" class="ec"/>
<rect x="116.9" y="625.6" width="16.5" height="14.8" fill="#ffffff" class="bar"/>
<line x1="133.4" y1="633.0" x2="137.6" y2="633.0" class="eb"/>
<line x1="137.6" y1="631.6" x2="137.6" y2="634.4" class="ec"/>
<rect x="116.9" y="640.4" width="51.5" height="14.8" fill="#fff500" class="bar"/>
<line x1="168.4" y1="647.8" x2="177.1" y2="647.8" class="eb"/>
<line x1="177.1" y1="646.4" x2="177.1" y2="649.2" class="ec"/>
<text x="253.5" y="525.1" class="tt">TCF3</text>
<line x1="227.3" y1="540.5" x2="301.3" y2="540.5" class="ax"/>
<line x1="227.3" y1="538.9" x2="227.3" y2="540.5" class="tk"/>
<rect x="226.7" y="536.1" width="1.2" height="1.8" fill="#aaa"/>
<line x1="242.1" y1="538.9" x2="242.1" y2="540.5" class="tk"/>
<rect x="241.5" y="532.1" width="1.3" height="2.6" fill="#c4c4c4"/>
<rect x="241.5" y="534.9" width="1.3" height="3.0" fill="#999"/>
<line x1="256.9" y1="538.9" x2="256.9" y2="540.5" class="tk"/>
<rect x="256.3" y="532.1" width="1.3" height="2.6" fill="#c4c4c4"/>
<rect x="256.3" y="534.9" width="1.3" height="3.0" fill="#999"/>
<line x1="271.7" y1="538.9" x2="271.7" y2="540.5" class="tk"/>
<rect x="271.1" y="532.1" width="1.3" height="2.6" fill="#c4c4c4"/>
<rect x="271.1" y="534.9" width="1.3" height="3.0" fill="#999"/>
<line x1="286.5" y1="538.9" x2="286.5" y2="540.5" class="tk"/>
<rect x="285.9" y="532.1" width="1.3" height="2.6" fill="#c4c4c4"/>
<rect x="285.9" y="534.9" width="1.3" height="3.0" fill="#999"/>
<line x1="301.3" y1="538.9" x2="301.3" y2="540.5" class="tk"/>
<rect x="300.7" y="532.1" width="1.3" height="2.6" fill="#c4c4c4"/>
<rect x="300.7" y="534.9" width="1.3" height="3.0" fill="#999"/>
<line x1="227.3" y1="540.5" x2="227.3" y2="666.2" class="ax"/>
<rect x="227.0" y="558.0" width="1.6" height="2.0" fill="#222"/>
<rect x="227.3" y="566.4" width="15.1" height="14.9" fill="#222222" class="bar"/>
<line x1="242.4" y1="573.9" x2="248.3" y2="573.9" class="eb"/>
<line x1="248.3" y1="572.5" x2="248.3" y2="575.3" class="ec"/>
<rect x="227.3" y="581.4" width="24.5" height="14.9" fill="#787878" class="bar"/>
<line x1="251.8" y1="588.9" x2="259.2" y2="588.9" class="eb"/>
<line x1="259.2" y1="587.5" x2="259.2" y2="590.3" class="ec"/>
<rect x="227.3" y="596.3" width="32.3" height="14.9" fill="#a8a8a8" class="bar"/>
<line x1="259.6" y1="603.8" x2="274.3" y2="603.8" class="eb"/>
<line x1="274.3" y1="602.4" x2="274.3" y2="605.2" class="ec"/>
<rect x="227.3" y="611.3" width="43.0" height="14.9" fill="#dcdcdc" class="bar"/>
<line x1="270.3" y1="618.7" x2="292.7" y2="618.7" class="eb"/>
<line x1="292.7" y1="617.3" x2="292.7" y2="620.1" class="ec"/>
<rect x="227.3" y="626.2" width="41.3" height="14.9" fill="#ffffff" class="bar"/>
<line x1="268.6" y1="633.7" x2="271.0" y2="633.7" class="eb"/>
<line x1="271.0" y1="632.3" x2="271.0" y2="635.1" class="ec"/>
<rect x="227.3" y="641.2" width="32.3" height="14.9" fill="#fff500" class="bar"/>
<line x1="259.6" y1="648.6" x2="264.8" y2="648.6" class="eb"/>
<line x1="264.8" y1="647.2" x2="264.8" y2="650.0" class="ec"/>
</svg>
</body></html>
